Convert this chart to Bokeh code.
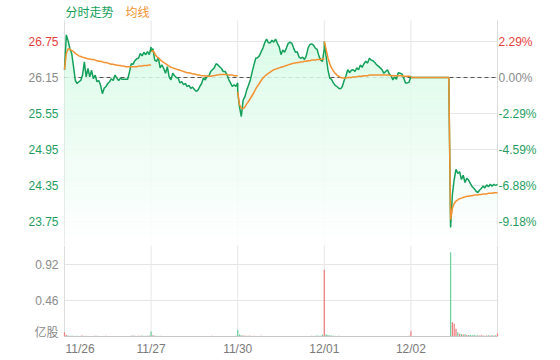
import numpy as np
from bokeh.plotting import figure
from bokeh.layouts import column
from bokeh.models import Range1d, ColumnDataSource
from bokeh.core.properties import value
from bokeh.embed import file_html
from bokeh.resources import INLINE

# ---------------- data ----------------
prev_close = 26.15
day_labels = ["11/26", "11/27", "11/30", "12/01", "12/02"]
minutes = list(range(0, 241, 5))

price_1126 = [26.28, 26.86, 26.76, 26.63, 26.55, 26.33, 26.10, 26.05, 26.08, 26.10,
              26.19, 26.41, 26.16, 26.30, 26.16, 26.27, 26.13, 26.19, 26.08, 26.10,
              26.02, 25.88, 25.97, 26.00, 26.05, 26.08, 26.13, 26.10, 26.19, 26.14,
              26.10, 26.14, 26.12, 26.12, 26.12, 26.12, 26.24, 26.38, 26.37, 26.43,
              26.46, 26.47, 26.55, 26.51, 26.57, 26.53, 26.58, 26.53, 26.66]
avg_1126 = [26.28, 26.55, 26.63, 26.62, 26.60, 26.58, 26.55, 26.53, 26.51, 26.50,
            26.49, 26.48, 26.47, 26.46, 26.46, 26.45, 26.45, 26.44, 26.43, 26.42,
            26.42, 26.41, 26.40, 26.40, 26.39, 26.38, 26.37, 26.37, 26.36, 26.36,
            26.35, 26.35, 26.34, 26.34, 26.33, 26.33, 26.33, 26.33, 26.33, 26.33,
            26.33, 26.34, 26.34, 26.34, 26.35, 26.35, 26.35, 26.36, 26.36]
price_1127 = [26.58, 26.63, 26.44, 26.42, 26.48, 26.31, 26.36, 26.30, 26.22, 26.33,
              26.16, 26.11, 26.22, 26.18, 26.15, 26.14, 26.06, 26.08, 26.03, 26.05,
              26.00, 26.02, 25.97, 25.99, 25.95, 25.92, 25.94, 26.00, 26.05, 26.14,
              26.11, 26.17, 26.17, 26.25, 26.28, 26.31, 26.38, 26.36, 26.33, 26.30,
              26.25, 26.25, 26.20, 26.12, 26.06, 26.00, 26.03, 26.00, 26.06]
avg_1127 = [26.58, 26.60, 26.55, 26.50, 26.48, 26.45, 26.42, 26.40, 26.38, 26.36,
            26.34, 26.32, 26.31, 26.30, 26.29, 26.28, 26.27, 26.26, 26.25, 26.24,
            26.23, 26.23, 26.22, 26.21, 26.21, 26.20, 26.19, 26.19, 26.18, 26.18,
            26.18, 26.17, 26.17, 26.17, 26.18, 26.18, 26.19, 26.19, 26.20, 26.20,
            26.20, 26.20, 26.20, 26.19, 26.19, 26.19, 26.18, 26.18, 26.18]
price_1130 = [25.91, 25.66, 25.50, 25.77, 25.83, 25.94, 26.02, 26.11, 26.24, 26.36,
              26.47, 26.48, 26.51, 26.58, 26.64, 26.73, 26.79, 26.73, 26.73, 26.77,
              26.74, 26.79, 26.72, 26.66, 26.53, 26.61, 26.57, 26.64, 26.72, 26.74,
              26.72, 26.64, 26.57, 26.58, 26.49, 26.47, 26.49, 26.45, 26.51, 26.64,
              26.70, 26.71, 26.69, 26.64, 26.62, 26.51, 26.44, 26.42, 26.63]
avg_1130 = [25.91, 25.70, 25.64, 25.63, 25.66, 25.71, 25.75, 25.80, 25.85, 25.90,
            25.96, 26.01, 26.05, 26.10, 26.14, 26.17, 26.20, 26.22, 26.24, 26.26,
            26.28, 26.29, 26.30, 26.31, 26.32, 26.33, 26.34, 26.35, 26.36, 26.37,
            26.38, 26.39, 26.39, 26.40, 26.40, 26.41, 26.41, 26.42, 26.42, 26.43,
            26.43, 26.44, 26.44, 26.44, 26.45, 26.45, 26.45, 26.46, 26.46]
price_1201 = [26.75, 26.50, 26.28, 26.14, 26.12, 26.06, 26.02, 26.00, 25.97, 25.96,
              26.00, 26.10, 26.18, 26.28, 26.23, 26.27, 26.28, 26.25, 26.31, 26.28,
              26.36, 26.32, 26.38, 26.42, 26.39, 26.47, 26.44, 26.43, 26.40, 26.36,
              26.34, 26.31, 26.28, 26.22, 26.25, 26.28, 26.21, 26.18, 26.11, 26.16,
              26.12, 26.23, 26.22, 26.21, 26.14, 26.06, 26.06, 26.07, 26.17]
avg_1201 = [26.75, 26.62, 26.48, 26.38, 26.31, 26.26, 26.22, 26.19, 26.17, 26.15,
            26.14, 26.14, 26.14, 26.15, 26.15, 26.15, 26.16, 26.16, 26.16, 26.17,
            26.17, 26.17, 26.18, 26.18, 26.18, 26.19, 26.19, 26.19, 26.19, 26.19,
            26.19, 26.19, 26.19, 26.19, 26.19, 26.19, 26.19, 26.18, 26.18, 26.18,
            26.18, 26.18, 26.18, 26.18, 26.17, 26.17, 26.17, 26.17, 26.17]
price_1202 = [26.15, 26.15, 26.15, 26.15, 26.15, 26.15, 26.15, 26.15, 26.15, 26.15,
              26.15, 26.15, 26.15, 26.15, 26.15, 26.15, 26.15, 26.15, 26.15, 26.15,
              26.15, 26.15, 23.65, 24.20, 24.45, 24.62, 24.55, 24.58, 24.45, 24.52,
              24.40, 24.47, 24.44, 24.38, 24.33, 24.30, 24.26, 24.23, 24.27, 24.30,
              24.34, 24.31, 24.36, 24.33, 24.37, 24.34, 24.37, 24.35, 24.37]
avg_1202 = [26.15, 26.15, 26.15, 26.15, 26.15, 26.15, 26.15, 26.15, 26.15, 26.15,
            26.15, 26.15, 26.15, 26.15, 26.15, 26.15, 26.15, 26.15, 26.15, 26.15,
            26.15, 26.15, 23.78, 23.97, 24.05, 24.09, 24.11, 24.13, 24.14, 24.15,
            24.16, 24.17, 24.17, 24.18, 24.18, 24.19, 24.19, 24.19, 24.20, 24.20,
            24.21, 24.21, 24.21, 24.22, 24.22, 24.22, 24.23, 24.23, 24.23]

# volume, 亿股
vol_1126 = [0.055, 0.018, 0.012, 0.010, 0.008, 0.010, 0.006, 0.008, 0.005, 0.010,
            0.012, 0.006, 0.008, 0.005, 0.006, 0.004, 0.006, 0.008, 0.010, 0.005,
            0.004, 0.006, 0.005, 0.008, 0.005, 0.004, 0.006, 0.005, 0.004, 0.005,
            0.004, 0.006, 0.005, 0.004, 0.005, 0.005, 0.006, 0.010, 0.012, 0.008,
            0.006, 0.010, 0.008, 0.012, 0.006, 0.008, 0.010, 0.012, 0.010]
vol_1127 = [0.065, 0.015, 0.010, 0.008, 0.006, 0.008, 0.005, 0.006, 0.005, 0.004,
            0.006, 0.005, 0.004, 0.006, 0.005, 0.004, 0.005, 0.006, 0.004, 0.005,
            0.004, 0.003, 0.004, 0.005, 0.004, 0.005, 0.004, 0.003, 0.004, 0.005,
            0.006, 0.005, 0.004, 0.006, 0.008, 0.006, 0.005, 0.004, 0.005, 0.006,
            0.005, 0.004, 0.005, 0.006, 0.005, 0.004, 0.006, 0.008, 0.010]
vol_1130 = [0.086, 0.025, 0.015, 0.012, 0.010, 0.008, 0.010, 0.008, 0.006, 0.008,
            0.006, 0.005, 0.006, 0.008, 0.006, 0.005, 0.006, 0.005, 0.004, 0.005,
            0.006, 0.004, 0.005, 0.004, 0.005, 0.006, 0.004, 0.005, 0.004, 0.005,
            0.004, 0.006, 0.005, 0.004, 0.005, 0.006, 0.005, 0.004, 0.006, 0.005,
            0.006, 0.008, 0.006, 0.010, 0.012, 0.008, 0.010, 0.025, 0.010]
vol_1201 = [0.852, 0.030, 0.020, 0.015, 0.012, 0.010, 0.008, 0.006, 0.008, 0.006,
            0.005, 0.006, 0.005, 0.004, 0.005, 0.006, 0.004, 0.005, 0.006, 0.004,
            0.005, 0.004, 0.003, 0.004, 0.005, 0.004, 0.003, 0.004, 0.005, 0.004,
            0.005, 0.004, 0.003, 0.004, 0.005, 0.004, 0.003, 0.004, 0.005, 0.004,
            0.005, 0.004, 0.005, 0.004, 0.005, 0.006, 0.005, 0.008, 0.068]
vol_1202 = [0.0, 0.0, 0.0, 0.0, 0.0, 0.0, 0.0, 0.0, 0.0, 0.0,
            0.0, 0.0, 0.0, 0.0, 0.0, 0.0, 0.0, 0.0, 0.0, 0.0,
            0.0, 0.0, 1.077, 0.183, 0.162, 0.098, 0.055, 0.035, 0.030, 0.025,
            0.030, 0.020, 0.018, 0.020, 0.015, 0.018, 0.012, 0.015, 0.012, 0.015,
            0.012, 0.010, 0.012, 0.015, 0.012, 0.015, 0.012, 0.015, 0.040]

price_ticks = [26.75, 26.15, 25.55, 24.95, 24.35, 23.75]
vol_ticks = [0.46, 0.92]
vol_unit = "亿股"
legend_price = "分时走势"
legend_avg = "均线"

# ---------------- styles / layout ----------------
RED = "#e5403d"
GREEN_TXT = "#1f9d63"
GRAY_TXT = "#8a8a8a"
DATE_TXT = "#7a7a7a"
LINE_G = "#13a05a"
LINE_O = "#f39130"
GRID = "#e6e6e6"
EDGE = "#dcdcdc"
BASE = "#c8c8c8"
FONT = "Liberation Sans"
CJK = "Noto Sans CJK SC"
VOL_UP = "#ee8080"
VOL_DN = "#6fcfa0"

W = 560
LEFT_M, RIGHT_M = 64, 63
CHART_W = W - LEFT_M - RIGHT_M           # 433
TOP_M = 20
PRICE_H = 225
VOL_H = 91
BOTTOM_M = 24

prices = [price_1126, price_1127, price_1130, price_1201, price_1202]
avgs = [avg_1126, avg_1127, avg_1130, avg_1201, avg_1202]
vols = [vol_1126, vol_1127, vol_1130, vol_1201, vol_1202]
for lst in prices + avgs + vols:
    assert len(lst) == len(minutes), len(lst)

day_len = 240
n_days = len(prices)
t_days = [np.array([d * day_len + m for m in minutes], float) for d in range(n_days)]
t = np.concatenate(t_days)
p_arr = np.array(sum(prices, []), float)
v_arr = np.array(sum(vols, []), float)

x0, x1 = 0, day_len * n_days
bounds_all = [day_len * k for k in range(n_days + 1)]
bounds_inner = bounds_all[1:-1]
px_x = (x1 - x0) / CHART_W
x_range = Range1d(x0 - LEFT_M * px_x, x1 + RIGHT_M * px_x)

y_lo, y_top = 23.35, 27.10                 # price span of the chart area
px_y = (y_top - y_lo) / PRICE_H

common = dict(min_border=0, x_range=x_range, x_axis_location=None, y_axis_location=None,
              toolbar_location=None, output_backend="svg", outline_line_color=None,
              background_fill_color="white", border_fill_color="white")


def price_color(v):
    if v > prev_close + 1e-9:
        return RED
    if v < prev_close - 1e-9:
        return GREEN_TXT
    return GRAY_TXT


# ---------------- price pane ----------------
p1 = figure(frame_width=W, frame_height=TOP_M + PRICE_H,
            y_range=Range1d(y_lo, y_top + TOP_M * px_y), **common)
p1.grid.visible = False

p1.segment(x0=[x0] * len(price_ticks), x1=[x1] * len(price_ticks),
           y0=price_ticks, y1=price_ticks, line_color=GRID, line_width=1)
p1.segment(x0=bounds_all, x1=bounds_all, y0=[y_lo] * len(bounds_all),
           y1=[y_top] * len(bounds_all),
           line_color=[EDGE if b in (x0, x1) else GRID for b in bounds_all], line_width=1)
p1.segment(x0=[x0], x1=[x1], y0=[prev_close], y1=[prev_close],
           line_color="#555555", line_dash="4 3", line_width=1)

# gradient area under the price line (bands aligned on pixel rows)
top_price = float(p_arr.max())
step = 9 * px_y
n_bands = int(np.ceil((top_price - y_lo) / step))
c_top = np.array([212, 250, 228])
c_bot = np.array([255, 255, 255])
for i in range(n_bands):
    lo = y_lo + i * step
    hi = lo + step
    frac = min(1.0, ((lo + hi) / 2 - y_lo) / (top_price - y_lo))
    c = (c_bot + (c_top - c_bot) * frac).round().astype(int)
    p1.varea(x=t, y1=np.full_like(p_arr, lo), y2=np.clip(p_arr, lo, hi),
             fill_color="#%02x%02x%02x" % tuple(c), fill_alpha=0.85)

p1.line(t, p_arr, line_color=LINE_G, line_width=1.5)
for td, a in zip(t_days, avgs):
    p1.line(td, a, line_color=LINE_O, line_width=1.5)

lab = ColumnDataSource(dict(
    xl=[x0] * len(price_ticks), xr=[x1] * len(price_ticks), y=price_ticks,
    price=["%.2f" % v for v in price_ticks],
    pct=["%.2f%%" % ((v / prev_close - 1) * 100) for v in price_ticks],
    color=[price_color(v) for v in price_ticks]))
p1.text(x="xl", y="y", text="price", text_color="color", source=lab, x_offset=-6,
        text_align="right", text_baseline="middle", text_font=value(FONT),
        text_font_size="12px")
p1.text(x="xr", y="y", text="pct", text_color="color", source=lab, x_offset=1,
        text_align="left", text_baseline="middle", text_font=value(FONT),
        text_font_size="12px")

p1.text(x=[x0], y=[y_top], text=[legend_price], x_offset=1, y_offset=-9,
        text_color=LINE_G, text_align="left", text_baseline="middle",
        text_font=value(CJK), text_font_size="12px")
p1.text(x=[x0], y=[y_top], text=[legend_avg], x_offset=61, y_offset=-9,
        text_color=LINE_O, text_align="left", text_baseline="middle",
        text_font=value(CJK), text_font_size="12px")

# ---------------- volume pane ----------------
px_v = vol_ticks[1] / 72.0                 # 0.92 sits 72px above the baseline
vol_top = VOL_H * px_v
p2 = figure(frame_width=W, frame_height=VOL_H + BOTTOM_M,
            y_range=Range1d(-BOTTOM_M * px_v, vol_top), **common)
p2.grid.visible = False

p2.segment(x0=[x0] * len(vol_ticks), x1=[x1] * len(vol_ticks),
           y0=vol_ticks, y1=vol_ticks, line_color=GRID, line_width=1)
p2.segment(x0=bounds_all, x1=bounds_all, y0=[0] * len(bounds_all),
           y1=[vol_top] * len(bounds_all),
           line_color=[EDGE if b in (x0, x1) else GRID for b in bounds_all], line_width=1)

prev = np.concatenate([[p_arr[0]], p_arr[:-1]])
bar_colors = [VOL_UP if a >= b else VOL_DN for a, b in zip(p_arr, prev)]
src = ColumnDataSource(dict(t=t, v=v_arr, c=bar_colors))
p2.vbar(x="t", top="v", bottom=0, width=3.5, fill_color="c", line_color=None, source=src)
p2.segment(x0=[x0], x1=[x1], y0=[0], y1=[0], line_color=BASE, line_width=1)

p2.text(x=[x0] * len(vol_ticks), y=vol_ticks, text=["%.2f" % v for v in vol_ticks],
        x_offset=-6, text_color=GRAY_TXT, text_align="right", text_baseline="middle",
        text_font=value(FONT), text_font_size="12px")
p2.text(x=[x0], y=[0], text=[vol_unit], x_offset=-6, y_offset=-5,
        text_color=GRAY_TXT, text_align="right", text_baseline="middle",
        text_font=value(CJK), text_font_size="12px")

p2.text(x=bounds_inner, y=[0] * len(bounds_inner), text=day_labels[1:], y_offset=5,
        text_color=DATE_TXT, text_align="center", text_baseline="top",
        text_font=value(FONT), text_font_size="12px")
p2.text(x=[x0], y=[0], text=[day_labels[0]], x_offset=1, y_offset=5,
        text_color=DATE_TXT, text_align="left", text_baseline="top",
        text_font=value(FONT), text_font_size="12px")

layout = column(p1, p2, spacing=0)
open("out.html", "w").write(file_html(layout, INLINE))
